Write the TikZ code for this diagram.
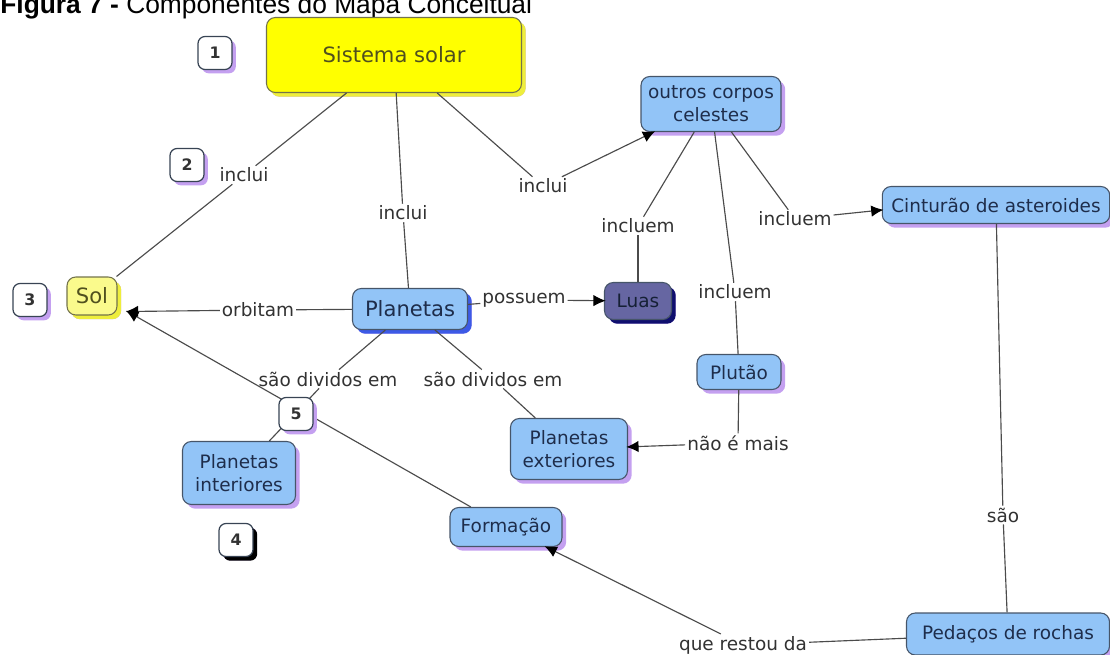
\documentclass[tikz,border=0pt]{standalone}
\usepackage{fontspec}
\setmainfont{DejaVu Sans}
\newfontfamily\titlefont{Liberation Sans}
\usetikzlibrary{arrows.meta,shadows}
\definecolor{cmblue}{RGB}{146,196,247}
\definecolor{cmborder}{RGB}{70,85,105}
\definecolor{cmtext}{RGB}{30,45,75}
\definecolor{cmpurple}{RGB}{196,160,240}
\definecolor{cmshblue}{RGB}{60,90,230}
\definecolor{cmyellow}{RGB}{255,255,0}
\definecolor{cmsolfill}{RGB}{250,250,140}
\definecolor{cmshyellow}{RGB}{238,238,60}
\definecolor{cmolive}{RGB}{80,80,30}
\definecolor{cmluas}{RGB}{102,102,162}
\definecolor{cmshnavy}{RGB}{15,15,110}
\definecolor{cmlabel}{RGB}{50,50,50}
\definecolor{cmline}{RGB}{75,75,75}
\tikzset{
  concept/.style={draw=cmborder, line width=0.6pt, rounded corners=5pt, fill=cmblue,
    text=cmtext, align=center, inner sep=2pt, font=\fontsize{10.5}{13}\selectfont,
    general shadow={shadow xshift=2.4pt, shadow yshift=-2.4pt, fill=cmpurple}},
  bigconcept/.style={concept, font=\fontsize{12}{14}\selectfont},
  linkph/.style={fill=white, inner sep=1pt, text=cmlabel, font=\fontsize{10.5}{12}\selectfont},
  badge/.style={draw=cmborder!80!black, line width=0.7pt, fill=white, rounded corners=4pt,
    minimum width=0.68cm, minimum height=0.66cm, inner sep=0pt, text=cmlabel,
    font=\fontsize{9}{10}\selectfont\bfseries,
    general shadow={shadow xshift=2.2pt, shadow yshift=-2.2pt, fill=cmpurple}},
  conn/.style={draw=cmline, line width=0.65pt},
  arr/.style={conn, -{Latex[length=7pt,width=6.5pt,color=black]}, shorten >=-1pt}
}
\begin{document}
\begin{tikzpicture}[x=0.02cm, y=-0.02cm]
\useasboundingbox (0,0) rectangle (1110,655);
\clip (0,0) rectangle (1110,655);
\node[anchor=base west, inner sep=0pt] (title) at (0,14)
  {\titlefont\fontsize{15}{18}\selectfont\textbf{Figura 7 -} Componentes do Mapa Conceitual};

% conceitos
\node[bigconcept, fill=cmyellow, text=cmolive, draw=cmolive!80, minimum width=5.1cm, minimum height=1.5cm,
  general shadow={shadow xshift=2.4pt, shadow yshift=-2.4pt, fill=cmshyellow}] (sistema) at (394,55) {Sistema solar};
\node[concept, minimum width=2.8cm, minimum height=1.1cm] (outros) at (711,104) {outros corpos\\celestes};
\node[concept, minimum width=4.55cm, minimum height=0.74cm] (cinturao) at (996,205) {Cinturão de asteroides};
\node[bigconcept, fill=cmsolfill, text=cmolive, draw=cmolive!80, minimum width=1.0cm, minimum height=0.76cm,
  general shadow={shadow xshift=2.4pt, shadow yshift=-2.4pt, fill=cmshyellow}] (sol) at (92,296) {Sol};
\node[bigconcept, minimum width=2.3cm, minimum height=0.82cm,
  general shadow={shadow xshift=2.4pt, shadow yshift=-2.4pt, fill=cmshblue}] (planetas) at (410,309) {Planetas};
\node[concept, fill=cmluas, text=cmtext!70!black, minimum width=1.34cm, minimum height=0.74cm,
  general shadow={shadow xshift=2.4pt, shadow yshift=-2.4pt, fill=cmshnavy}] (luas) at (638,301) {Luas};
\node[concept, minimum width=1.68cm, minimum height=0.7cm] (plutao) at (739,372) {Plutão};
\node[concept, minimum width=2.34cm, minimum height=1.22cm] (exteriores) at (569,449) {Planetas\\exteriores};
\node[concept, minimum width=2.26cm, minimum height=1.26cm] (interiores) at (239,473) {Planetas\\interiores};
\node[concept, minimum width=2.24cm, minimum height=0.78cm] (formacao) at (506,527) {Formação};
\node[concept, minimum width=4.06cm, minimum height=0.84cm] (pedacos) at (1008,634) {Pedaços de rochas};

% frases de ligacao
\node[linkph] (incA) at (244,175) {inclui};
\node[linkph] (incB) at (403,213) {inclui};
\node[linkph] (incC) at (543,186) {inclui};
\node[linkph] (inclA) at (638,226) {incluem};
\node[linkph] (inclB) at (795,219) {incluem};
\node[linkph] (inclC) at (735,292) {incluem};
\node[linkph] (orbitam) at (258,310) {orbitam};
\node[linkph] (possuem) at (524,300) {possuem};
\node[linkph] (divA) at (328,379) {são dividos em};
\node[linkph] (divB) at (493,379) {são dividos em};
\node[linkph] (naoe) at (738,443) {não é mais};
\node[linkph] (sao) at (1003,515) {são};
\node[linkph] (restou) at (743,645) {que restou da};
\coordinate (solin) at ([xshift=0.2cm,yshift=0.08cm]sol.south east);

% ligacoes
\draw[conn] (sistema) -- (incA);
\draw[conn] (incA) -- (sol);
\draw[conn] (sistema) -- (incB);
\draw[conn] (incB) -- (planetas);
\draw[conn] (sistema) -- (incC);
\draw[arr] (incC) -- (outros);
\draw[conn] (outros) -- (inclA);
\draw[conn] (inclA) -- (luas);
\draw[conn] (outros) -- (inclB);
\draw[arr] (inclB) -- ([yshift=-0.1cm]cinturao.west);
\draw[conn] (outros) -- (inclC);
\draw[conn] (inclC) -- (plutao);
\draw[conn] (planetas) -- (orbitam);
\draw[arr] (orbitam) -- (solin);
\draw[conn] (planetas) -- (possuem);
\draw[arr] (possuem) -- (luas);
\draw[conn] (planetas) -- (divA);
\draw[conn] (divA) -- (interiores);
\draw[conn] (planetas) -- (divB);
\draw[conn] (divB) -- (exteriores);
\draw[conn] (plutao) -- (naoe);
\draw[arr] (naoe) -- (exteriores);
\draw[conn] (cinturao) -- (sao);
\draw[conn] (sao) -- (pedacos);
\draw[conn] (pedacos) -- (restou);
\draw[arr] (restou) -- (formacao);
\draw[arr] (formacao) -- (solin);

% numeros
\node[badge] (n1) at (215,53) {1};
\node[badge] (n2) at (187,165) {2};
\node[badge] (n3) at (30,300) {3};
\node[badge, general shadow={shadow xshift=2.4pt, shadow yshift=-2.4pt, fill=black}] (n4) at (236,540) {4};
\node[badge] (n5) at (296,414) {5};
\end{tikzpicture}
\end{document}
